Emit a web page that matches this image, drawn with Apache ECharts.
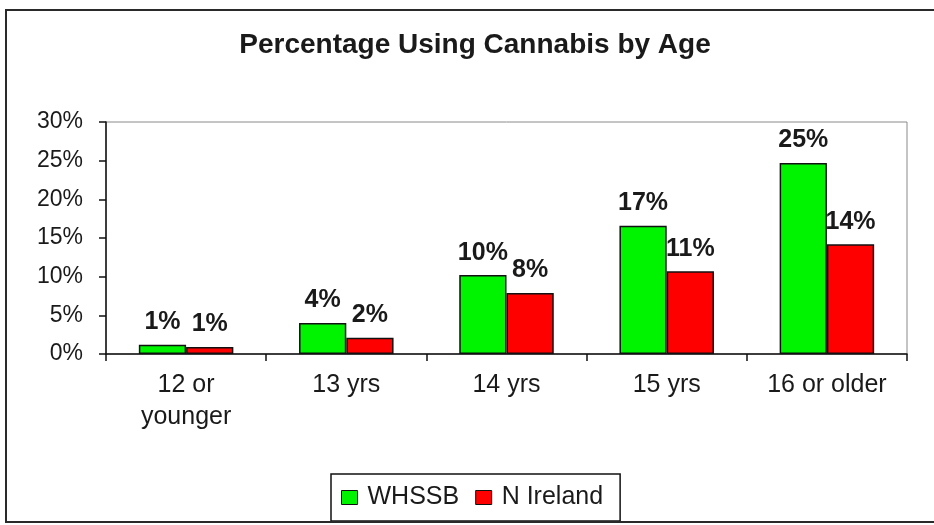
<!DOCTYPE html>
<html>
<head>
<meta charset="utf-8">
<title>Percentage Using Cannabis by Age</title>
<script src="https://cdn.jsdelivr.net/npm/echarts@6/dist/echarts.min.js"></script>
<style>
  html, body { margin: 0; padding: 0; background: #fff; }
  #chart { width: 934px; height: 525px; }
</style>
</head>
<body>
<div id="chart"></div>
<script>
// Age groups along the x axis
const ageGroups = ['12 or\nyounger', '13 yrs', '14 yrs', '15 yrs', '16 or older'];

// Share of respondents using cannabis, in percent
const whssbValues = [1.2, 4.0, 10.2, 16.6, 24.7];
const nIrelandValues = [0.9, 2.1, 7.9, 10.7, 14.2];

// Series names shown in the legend
const seriesNames = ['WHSSB', 'N Ireland'];

// Percent axis range and step
const yMin = 0;
const yMax = 30;
const yStep = 5;

const FONT = 'Arial, "Liberation Sans", Helvetica, sans-serif';
const TEXT = '#1a1a1a';

const chart = echarts.init(document.getElementById('chart'), null, { renderer: 'canvas' });

function barSeries(name, values, color) {
  return {
    name: name,
    type: 'bar',
    data: values,
    barGap: '0%',
    barCategoryGap: '41%',
    itemStyle: { color: color, borderColor: '#111', borderWidth: 1.5 },
    label: {
      show: true,
      position: 'top',
      distance: 10,
      fontFamily: FONT,
      fontSize: 25,
      fontWeight: 'bold',
      color: TEXT,
      formatter: p => Math.round(p.value) + '%'
    },
    emphasis: { disabled: true }
  };
}

chart.setOption({
  animation: false,
  backgroundColor: '#fff',
  textStyle: { fontFamily: FONT },
  title: {
    text: 'Percentage Using Cannabis by Age',
    left: 470,
    textAlign: 'center',
    top: 26,
    textStyle: { fontFamily: FONT, fontSize: 28, fontWeight: 'bold', color: TEXT }
  },
  graphic: [{
    type: 'rect',
    shape: { x: 6, y: 10, width: 940, height: 512 },
    style: { fill: null, stroke: '#2a2a2a', lineWidth: 2 },
    silent: true,
    z: 100
  }],
  legend: {
    data: seriesNames,
    left: 331,
    top: 474,
    orient: 'horizontal',
    itemWidth: 16,
    itemHeight: 14,
    itemGap: 16,
    padding: [11, 17, 11, 10],
    borderColor: '#111',
    borderWidth: 1.5,
    icon: 'rect',
    selectedMode: false,
    itemStyle: { borderColor: '#111', borderWidth: 1 },
    textStyle: { fontFamily: FONT, fontSize: 25, color: TEXT, padding: [0, 0, 0, 5] }
  },
  grid: {
    left: 106,
    right: 27,
    top: 122,
    bottom: 171,
    containLabel: false,
    show: true,
    borderColor: '#8a8a8a',
    borderWidth: 1
  },
  xAxis: {
    type: 'category',
    data: ageGroups,
    axisLine: { show: true, lineStyle: { color: '#111', width: 1.5 } },
    axisTick: { show: true, alignWithLabel: false, length: 7, lineStyle: { color: '#111', width: 1.5 } },
    axisLabel: {
      fontFamily: FONT,
      fontSize: 25,
      lineHeight: 32,
      margin: 15,
      color: TEXT,
      interval: 0
    },
    splitLine: { show: false }
  },
  yAxis: {
    type: 'value',
    min: yMin,
    max: yMax,
    interval: yStep,
    axisLine: { show: true, lineStyle: { color: '#111', width: 1.5 } },
    axisTick: { show: true, length: 7, lineStyle: { color: '#111', width: 1.5 } },
    axisLabel: {
      fontFamily: FONT,
      fontSize: 23,
      margin: 23,
      color: TEXT,
      formatter: '{value}%'
    },
    splitLine: { show: false }
  },
  series: [
    barSeries(seriesNames[0], whssbValues, '#00f400'),
    barSeries(seriesNames[1], nIrelandValues, '#ff0000')
  ]
});
</script>
</body>
</html>
